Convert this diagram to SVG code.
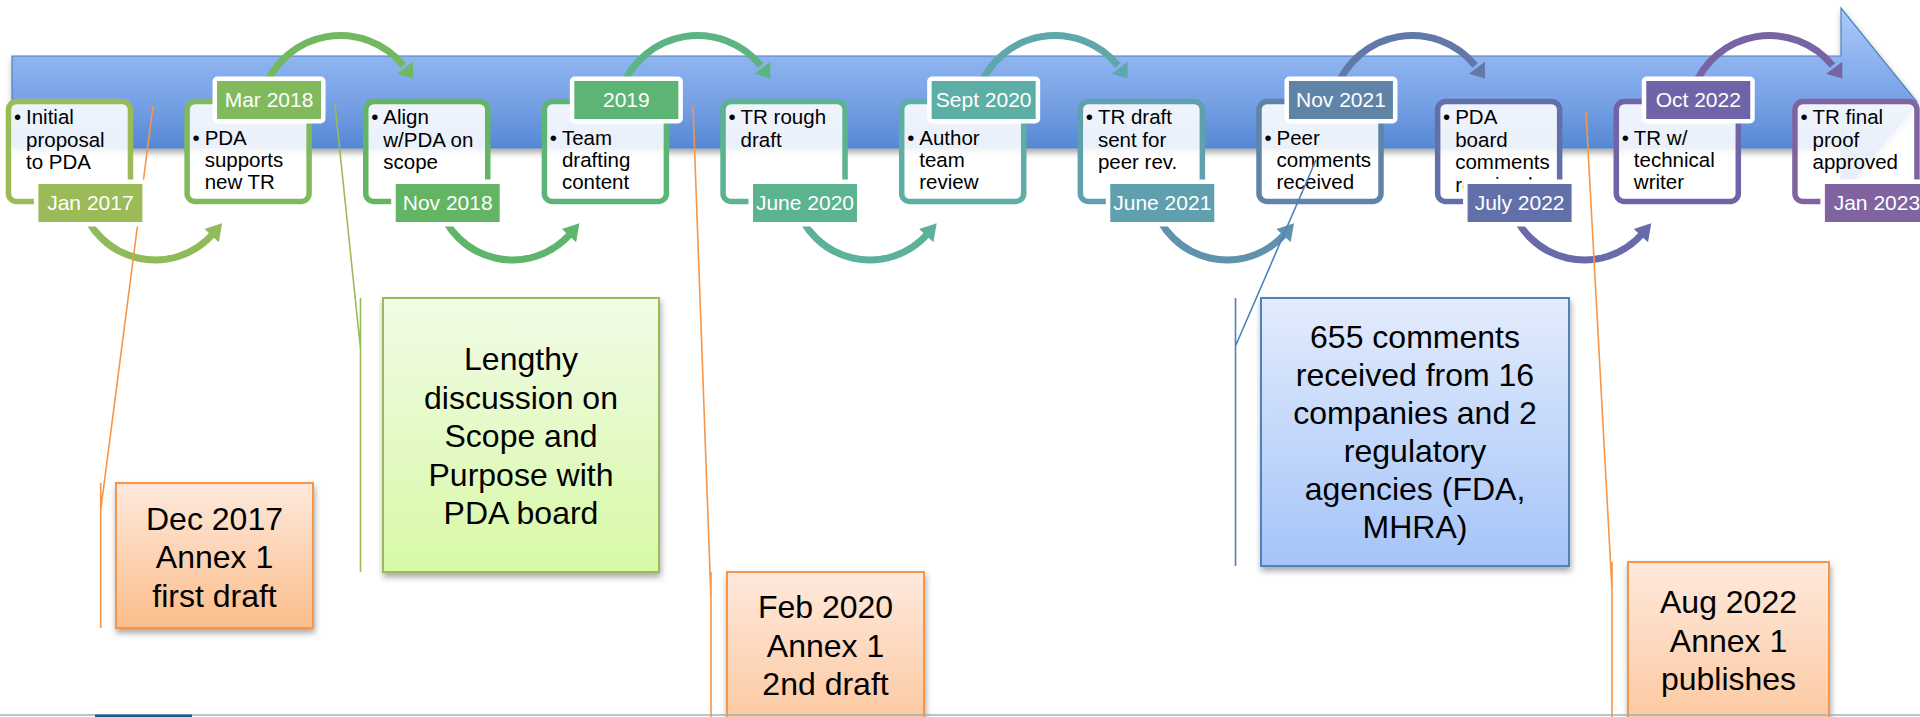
<svg xmlns="http://www.w3.org/2000/svg" width="1920" height="717" viewBox="0 0 1920 717">
<defs>
  <linearGradient id="barG" x1="0" y1="0" x2="0" y2="1">
    <stop offset="0" stop-color="#aacbfa"/>
    <stop offset="0.255" stop-color="#8fb5f1"/>
    <stop offset="0.5" stop-color="#77a1e5"/>
    <stop offset="0.745" stop-color="#5688d4"/>
    <stop offset="1" stop-color="#4577c6"/>
  </linearGradient>
  <linearGradient id="orG" x1="0" y1="0" x2="0" y2="1">
    <stop offset="0" stop-color="#fee9dc"/>
    <stop offset="1" stop-color="#fbbd8b"/>
  </linearGradient>
  <linearGradient id="orG2" x1="0" y1="0" x2="0" y2="1">
    <stop offset="0" stop-color="#fee9dc"/>
    <stop offset="1" stop-color="#fcc59a"/>
  </linearGradient>
  <linearGradient id="grG" x1="0" y1="0" x2="0" y2="1">
    <stop offset="0" stop-color="#f1fbe6"/>
    <stop offset="1" stop-color="#d7f9a6"/>
  </linearGradient>
  <linearGradient id="blG" x1="0" y1="0" x2="0" y2="1">
    <stop offset="0" stop-color="#e3ecfc"/>
    <stop offset="1" stop-color="#a5c4f9"/>
  </linearGradient>
  <filter id="sh" x="-10%" y="-10%" width="130%" height="140%">
    <feDropShadow dx="1" dy="4" stdDeviation="3" flood-color="#000" flood-opacity="0.35"/>
  </filter>
</defs>
<style>
  .box{fill:#ffffff;fill-opacity:0.88;stroke-width:5.5}
  .lw{fill:#ffffff}
  .t{font-family:"Liberation Sans",Arial,sans-serif;font-size:20.5px;fill:#000}
  .d{font-family:"Liberation Sans",Arial,sans-serif;font-size:21px;fill:#ffffff;text-anchor:middle}
  .c{font-family:"Liberation Sans",Arial,sans-serif;font-size:32px;fill:#000;text-anchor:middle}
  .arc{fill:none;stroke-width:7}
  .lead{fill:none;stroke-width:1.6}
  .cb{stroke-width:2}
</style>

<rect x="0" y="0" width="1920" height="717" fill="#ffffff"/>

<g id="timeline-bar">
  <path d="M12,56 H1841 V8 L1917,102 L1841,196 V148 H12 Z" fill="url(#barG)" stroke="#4f81bd" stroke-width="1.2" filter="url(#sh)"/>
</g>

<g id="connectors">
  <path class="arc" stroke="#8fbb5a" d="M80.8,202.9 A77,77 0 0 0 213.3,233.5"/>
  <polygon fill="#8fbb5a" points="204.6,229 218.8,242.3 222.1,223.2"/>
  <path class="arc" stroke="#72b860" d="M264.25,88.8 A81,81 0 0 1 403.25,65.5"/>
  <polygon fill="#72b860" points="397.05,73.8 413.05,61.7 413.05,78.6"/>
  <path class="arc" stroke="#5fb56b" d="M438.1,202.9 A77,77 0 0 0 570.6,233.5"/>
  <polygon fill="#5fb56b" points="561.9,229 576.1,242.3 579.4,223.2"/>
  <path class="arc" stroke="#5cb482" d="M621.55,88.8 A81,81 0 0 1 760.55,65.5"/>
  <polygon fill="#5cb482" points="754.35,73.8 770.35,61.7 770.35,78.6"/>
  <path class="arc" stroke="#5cb19a" d="M795.4,202.9 A77,77 0 0 0 927.9,233.5"/>
  <polygon fill="#5cb19a" points="919.2,229 933.4,242.3 936.7,223.2"/>
  <path class="arc" stroke="#5ea7aa" d="M978.85,88.8 A81,81 0 0 1 1117.85,65.5"/>
  <polygon fill="#5ea7aa" points="1111.65,73.8 1127.65,61.7 1127.65,78.6"/>
  <path class="arc" stroke="#5f92ac" d="M1152.7,202.9 A77,77 0 0 0 1285.2,233.5"/>
  <polygon fill="#5f92ac" points="1276.5,229 1290.7,242.3 1294,223.2"/>
  <path class="arc" stroke="#6179a9" d="M1336.15,88.8 A81,81 0 0 1 1475.15,65.5"/>
  <polygon fill="#6179a9" points="1468.95,73.8 1484.95,61.7 1484.95,78.6"/>
  <path class="arc" stroke="#686aa9" d="M1510,202.9 A77,77 0 0 0 1642.5,233.5"/>
  <polygon fill="#686aa9" points="1633.8,229 1648,242.3 1651.3,223.2"/>
  <path class="arc" stroke="#7864a4" d="M1693.45,88.8 A81,81 0 0 1 1832.45,65.5"/>
  <polygon fill="#7864a4" points="1826.25,73.8 1842.25,61.7 1842.25,78.6"/>
</g>

<g id="n0" transform="translate(5.7,0)">
  <rect class="box" x="2.75" y="101.5" width="122" height="100" rx="8" stroke="#9bbb59"/>
  <text class="t" x="8.2" y="124">•</text>
  <text class="t" x="20.3" y="124">Initial</text>
  <text class="t" x="20.3" y="146.5">proposal</text>
  <text class="t" x="20.3" y="169">to PDA</text>
  <rect class="lw" x="28.2" y="179.5" width="113" height="47" rx="5"/>
  <rect x="32.7" y="184" width="104" height="38" fill="#9bbb59"/>
  <text class="d" x="84.7" y="209.5">Jan 2017</text>
</g>

<g id="n1" transform="translate(184.35,0)">
  <rect class="box" x="2.75" y="101.5" width="122" height="100" rx="8" stroke="#80ba5d"/>
  <text class="t" x="8.2" y="145">•</text>
  <text class="t" x="20.3" y="145">PDA</text>
  <text class="t" x="20.3" y="167">supports</text>
  <text class="t" x="20.3" y="189">new TR</text>
  <rect class="lw" x="28.2" y="76.5" width="113" height="47" rx="5"/>
  <rect x="32.7" y="81" width="104" height="38" fill="#80ba5d"/>
  <text class="d" x="84.7" y="106.5">Mar 2018</text>
</g>

<g id="n2" transform="translate(363,0)">
  <rect class="box" x="2.75" y="101.5" width="122" height="100" rx="8" stroke="#63b563"/>
  <text class="t" x="8.2" y="124">•</text>
  <text class="t" x="20.3" y="124">Align</text>
  <text class="t" x="20.3" y="146.5">w/PDA on</text>
  <text class="t" x="20.3" y="169">scope</text>
  <rect class="lw" x="28.2" y="179.5" width="113" height="47" rx="5"/>
  <rect x="32.7" y="184" width="104" height="38" fill="#63b563"/>
  <text class="d" x="84.7" y="209.5">Nov 2018</text>
</g>

<g id="n3" transform="translate(541.65,0)">
  <rect class="box" x="2.75" y="101.5" width="122" height="100" rx="8" stroke="#5cb475"/>
  <text class="t" x="8.2" y="145">•</text>
  <text class="t" x="20.3" y="145">Team</text>
  <text class="t" x="20.3" y="167">drafting</text>
  <text class="t" x="20.3" y="189">content</text>
  <rect class="lw" x="28.2" y="76.5" width="113" height="47" rx="5"/>
  <rect x="32.7" y="81" width="104" height="38" fill="#5cb475"/>
  <text class="d" x="84.7" y="106.5">2019</text>
</g>

<g id="n4" transform="translate(720.3,0)">
  <rect class="box" x="2.75" y="101.5" width="122" height="100" rx="8" stroke="#5cb38f"/>
  <text class="t" x="8.2" y="124">•</text>
  <text class="t" x="20.3" y="124">TR rough</text>
  <text class="t" x="20.3" y="146.5">draft</text>
  <rect class="lw" x="28.2" y="179.5" width="113" height="47" rx="5"/>
  <rect x="32.7" y="184" width="104" height="38" fill="#5cb38f"/>
  <text class="d" x="84.7" y="209.5">June 2020</text>
</g>

<g id="n5" transform="translate(898.95,0)">
  <rect class="box" x="2.75" y="101.5" width="122" height="100" rx="8" stroke="#5daea5"/>
  <text class="t" x="8.2" y="145">•</text>
  <text class="t" x="20.3" y="145">Author</text>
  <text class="t" x="20.3" y="167">team</text>
  <text class="t" x="20.3" y="189">review</text>
  <rect class="lw" x="28.2" y="76.5" width="113" height="47" rx="5"/>
  <rect x="32.7" y="81" width="104" height="38" fill="#5daea5"/>
  <text class="d" x="84.7" y="106.5">Sept 2020</text>
</g>

<g id="n6" transform="translate(1077.6,0)">
  <rect class="box" x="2.75" y="101.5" width="122" height="100" rx="8" stroke="#5f9fae"/>
  <text class="t" x="8.2" y="124">•</text>
  <text class="t" x="20.3" y="124">TR draft</text>
  <text class="t" x="20.3" y="146.5">sent for</text>
  <text class="t" x="20.3" y="169">peer rev.</text>
  <rect class="lw" x="28.2" y="179.5" width="113" height="47" rx="5"/>
  <rect x="32.7" y="184" width="104" height="38" fill="#5f9fae"/>
  <text class="d" x="84.7" y="209.5">June 2021</text>
</g>

<g id="n7" transform="translate(1256.25,0)">
  <rect class="box" x="2.75" y="101.5" width="122" height="100" rx="8" stroke="#5f84a8"/>
  <text class="t" x="8.2" y="145">•</text>
  <text class="t" x="20.3" y="145">Peer</text>
  <text class="t" x="20.3" y="167">comments</text>
  <text class="t" x="20.3" y="189">received</text>
  <rect class="lw" x="28.2" y="76.5" width="113" height="47" rx="5"/>
  <rect x="32.7" y="81" width="104" height="38" fill="#5f84a8"/>
  <text class="d" x="84.7" y="106.5">Nov 2021</text>
</g>

<g id="n8" transform="translate(1434.9,0)">
  <rect class="box" x="2.75" y="101.5" width="122" height="100" rx="8" stroke="#6270aa"/>
  <text class="t" x="8.2" y="124">•</text>
  <text class="t" x="20.3" y="124">PDA</text>
  <text class="t" x="20.3" y="146.5">board</text>
  <text class="t" x="20.3" y="169">comments</text>
  <text class="t" x="20.3" y="191.5">received</text>
  <rect class="lw" x="28.2" y="179.5" width="113" height="47" rx="5"/>
  <rect x="32.7" y="184" width="104" height="38" fill="#6270aa"/>
  <text class="d" x="84.7" y="209.5">July 2022</text>
</g>

<g id="n9" transform="translate(1613.55,0)">
  <rect class="box" x="2.75" y="101.5" width="122" height="100" rx="8" stroke="#6e64a7"/>
  <text class="t" x="8.2" y="145">•</text>
  <text class="t" x="20.3" y="145">TR w/</text>
  <text class="t" x="20.3" y="167">technical</text>
  <text class="t" x="20.3" y="189">writer</text>
  <rect class="lw" x="28.2" y="76.5" width="113" height="47" rx="5"/>
  <rect x="32.7" y="81" width="104" height="38" fill="#6e64a7"/>
  <text class="d" x="84.7" y="106.5">Oct 2022</text>
</g>

<g id="n10" transform="translate(1792.2,0)">
  <rect class="box" x="2.75" y="101.5" width="122" height="100" rx="8" stroke="#8064a2"/>
  <text class="t" x="8.2" y="124">•</text>
  <text class="t" x="20.3" y="124">TR final</text>
  <text class="t" x="20.3" y="146.5">proof</text>
  <text class="t" x="20.3" y="169">approved</text>
  <rect class="lw" x="28.2" y="179.5" width="113" height="47" rx="5"/>
  <rect x="32.7" y="184" width="104" height="38" fill="#8064a2"/>
  <text class="d" x="84.7" y="209.5">Jan 2023</text>
</g>

<g id="callout-connectors">
  <path class="lead" stroke="#f79646" d="M153,106 L143.5,179.5 M137.4,226.5 L100.7,510 M100.7,483 V628"/>
  <path class="lead" stroke="#9bbb59" d="M335,104 L360.5,349 M360.5,298 V572"/>
  <path class="lead" stroke="#f79646" d="M693,106 L711,600 M711,572 V717"/>
  <path class="lead" stroke="#4f81bd" d="M1316,160 L1235.5,346 M1235.5,298 V566"/>
  <path class="lead" stroke="#f79646" d="M1586,112 L1612,590 M1612,562 V717"/>
</g>

<g id="c1">
  <rect class="cb" x="116" y="483" width="197" height="145" fill="url(#orG)" stroke="#f79646" filter="url(#sh)"/>
  <text class="c" x="214.5" y="529.5">Dec 2017</text>
  <text class="c" x="214.5" y="568">Annex 1</text>
  <text class="c" x="214.5" y="606.5">first draft</text>
</g>

<g id="c2">
  <rect class="cb" x="383" y="298" width="276" height="274" fill="url(#grG)" stroke="#9bbb59" filter="url(#sh)"/>
  <text class="c" x="521" y="370">Lengthy</text>
  <text class="c" x="521" y="408.5">discussion on</text>
  <text class="c" x="521" y="447">Scope and</text>
  <text class="c" x="521" y="485.5">Purpose with</text>
  <text class="c" x="521" y="524">PDA board</text>
</g>

<g id="c3">
  <rect class="cb" x="727" y="572" width="197" height="170" fill="url(#orG2)" stroke="#f79646" filter="url(#sh)"/>
  <text class="c" x="825.5" y="618">Feb 2020</text>
  <text class="c" x="825.5" y="656.5">Annex 1</text>
  <text class="c" x="825.5" y="695">2nd draft</text>
</g>

<g id="c4">
  <rect class="cb" x="1261" y="298" width="308" height="268" fill="url(#blG)" stroke="#4f81bd" filter="url(#sh)"/>
  <text class="c" x="1415" y="348">655 comments</text>
  <text class="c" x="1415" y="386">received from 16</text>
  <text class="c" x="1415" y="424">companies and 2</text>
  <text class="c" x="1415" y="462">regulatory</text>
  <text class="c" x="1415" y="500">agencies (FDA,</text>
  <text class="c" x="1415" y="538">MHRA)</text>
</g>

<g id="c5">
  <rect class="cb" x="1628" y="562" width="201" height="180" fill="url(#orG2)" stroke="#f79646" filter="url(#sh)"/>
  <text class="c" x="1728.5" y="613">Aug 2022</text>
  <text class="c" x="1728.5" y="651.5">Annex 1</text>
  <text class="c" x="1728.5" y="690">publishes</text>
</g>

<g id="footer">
  <line x1="0" y1="715" x2="1920" y2="715" stroke="#a6acb3" stroke-width="1.5"/>
  <rect x="95" y="714.5" width="97" height="3" fill="#1f5b8c"/>
</g>
</svg>
